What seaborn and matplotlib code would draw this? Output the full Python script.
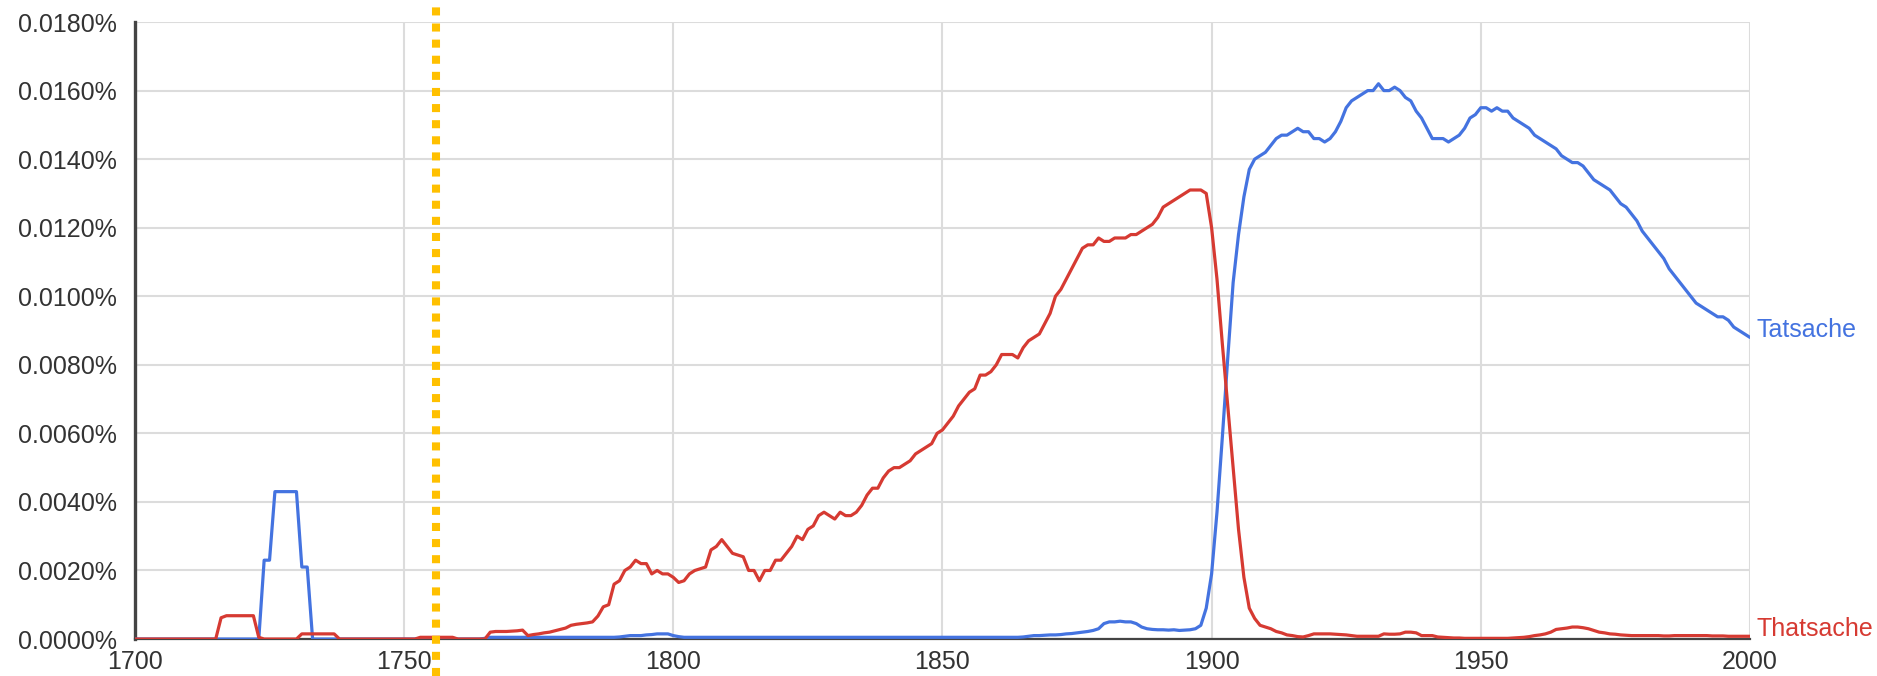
import numpy as np
import pandas as pd
import seaborn as sns
import matplotlib.pyplot as plt
from matplotlib.ticker import FuncFormatter, MultipleLocator

# ---------------------------------------------------------------
# Dados (frequência em %, um valor por ano, 1700-2000)
# ---------------------------------------------------------------

anos = list(range(1700, 2001))

# Tatsache (azul)
tatsache = [
    0, 0, 0, 0, 0, 0, 0, 0, 0, 0,                                          # 1700
    0, 0, 0, 0, 0, 0, 0, 0, 0, 0,                                          # 1710
    0, 0, 0, 0, 0.0023, 0.0023, 0.0043, 0.0043, 0.0043, 0.0043,            # 1720
    0.0043, 0.0021, 0.0021, 0, 0, 0, 0, 0, 0, 0,                           # 1730
    0, 0, 0, 0, 0, 0, 0, 0, 0, 0,                                          # 1740
    0, 0, 0, 0.00002, 0.00002, 0.00002, 0.00002, 0.00002, 0.00002, 0.00002,  # 1750
    0, 0, 0, 0, 0, 0.00002, 0.00005, 0.00005, 0.00005, 0.00005,            # 1760
    0.00005, 0.00005, 0.00005, 0.00005, 0.00005, 0.00005, 0.00005, 0.00005, 0.00005, 0.00005,  # 1770
    0.00005, 0.00005, 0.00005, 0.00005, 0.00005, 0.00005, 0.00005, 0.00005, 0.00005, 0.00005,  # 1780
    0.00006, 0.00008, 0.0001, 0.0001, 0.0001, 0.00012, 0.00013, 0.00015, 0.00015, 0.00015,     # 1790
    0.0001, 0.00007, 0.00005, 0.00005, 0.00005, 0.00005, 0.00005, 0.00005, 0.00005, 0.00005,   # 1800
    0.00005, 0.00005, 0.00005, 0.00005, 0.00005, 0.00005, 0.00005, 0.00005, 0.00005, 0.00005,  # 1810
    0.00005, 0.00005, 0.00005, 0.00005, 0.00005, 0.00005, 0.00005, 0.00005, 0.00005, 0.00005,  # 1820
    0.00005, 0.00005, 0.00005, 0.00005, 0.00005, 0.00005, 0.00005, 0.00005, 0.00005, 0.00005,  # 1830
    0.00005, 0.00005, 0.00005, 0.00005, 0.00005, 0.00005, 0.00005, 0.00005, 0.00005, 0.00005,  # 1840
    0.00005, 0.00005, 0.00005, 0.00005, 0.00005, 0.00005, 0.00005, 0.00005, 0.00005, 0.00005,  # 1850
    0.00005, 0.00005, 0.00005, 0.00005, 0.00005, 0.00006, 0.00008, 0.0001, 0.0001, 0.00011,    # 1860
    0.00012, 0.00012, 0.00013, 0.00015, 0.00016, 0.00018, 0.0002, 0.00022, 0.00025, 0.0003,    # 1870
    0.00045, 0.0005, 0.0005, 0.00052, 0.0005, 0.0005, 0.00045, 0.00035, 0.0003, 0.00028,       # 1880
    0.00027, 0.00027, 0.00026, 0.00027, 0.00025, 0.00026, 0.00027, 0.0003, 0.0004, 0.0009,     # 1890
    0.0019, 0.0037, 0.0059, 0.0082, 0.0104, 0.0118, 0.0129, 0.0137, 0.0140, 0.0141,            # 1900
    0.0142, 0.0144, 0.0146, 0.0147, 0.0147, 0.0148, 0.0149, 0.0148, 0.0148, 0.0146,            # 1910
    0.0146, 0.0145, 0.0146, 0.0148, 0.0151, 0.0155, 0.0157, 0.0158, 0.0159, 0.0160,            # 1920
    0.0160, 0.0162, 0.0160, 0.0160, 0.0161, 0.0160, 0.0158, 0.0157, 0.0154, 0.0152,            # 1930
    0.0149, 0.0146, 0.0146, 0.0146, 0.0145, 0.0146, 0.0147, 0.0149, 0.0152, 0.0153,            # 1940
    0.0155, 0.0155, 0.0154, 0.0155, 0.0154, 0.0154, 0.0152, 0.0151, 0.0150, 0.0149,            # 1950
    0.0147, 0.0146, 0.0145, 0.0144, 0.0143, 0.0141, 0.0140, 0.0139, 0.0139, 0.0138,            # 1960
    0.0136, 0.0134, 0.0133, 0.0132, 0.0131, 0.0129, 0.0127, 0.0126, 0.0124, 0.0122,            # 1970
    0.0119, 0.0117, 0.0115, 0.0113, 0.0111, 0.0108, 0.0106, 0.0104, 0.0102, 0.0100,            # 1980
    0.0098, 0.0097, 0.0096, 0.0095, 0.0094, 0.0094, 0.0093, 0.0091, 0.0090, 0.0089,            # 1990
    0.0088,                                                                                     # 2000
]

# Thatsache (vermelho)
thatsache = [
    0, 0, 0, 0, 0, 0, 0, 0, 0, 0,                                          # 1700
    0, 0, 0, 0, 0, 0, 0.00062, 0.00068, 0.00068, 0.00068,                  # 1710
    0.00068, 0.00068, 0.00068, 0.00005, 0, 0, 0, 0, 0, 0,                  # 1720
    0, 0.00015, 0.00015, 0.00015, 0.00015, 0.00015, 0.00015, 0.00015, 0, 0,  # 1730
    0, 0, 0, 0, 0, 0, 0, 0, 0, 0,                                          # 1740
    0, 0, 0, 0.00005, 0.00005, 0.00005, 0.00005, 0.00005, 0.00005, 0.00005,  # 1750
    0, 0, 0, 0, 0, 0, 0.0002, 0.00022, 0.00022, 0.00022,                   # 1760
    0.00023, 0.00024, 0.00026, 0.0001, 0.00013, 0.00015, 0.00018, 0.0002, 0.00024, 0.00028,    # 1770
    0.00032, 0.0004, 0.00043, 0.00045, 0.00047, 0.0005, 0.00067, 0.00094, 0.001, 0.0016,       # 1780
    0.0017, 0.0020, 0.0021, 0.0023, 0.0022, 0.0022, 0.0019, 0.0020, 0.0019, 0.0019,            # 1790
    0.0018, 0.00165, 0.0017, 0.0019, 0.0020, 0.00205, 0.0021, 0.0026, 0.0027, 0.0029,          # 1800
    0.0027, 0.0025, 0.00245, 0.0024, 0.0020, 0.0020, 0.0017, 0.0020, 0.0020, 0.0023,           # 1810
    0.0023, 0.0025, 0.0027, 0.0030, 0.0029, 0.0032, 0.0033, 0.0036, 0.0037, 0.0036,            # 1820
    0.0035, 0.0037, 0.0036, 0.0036, 0.0037, 0.0039, 0.0042, 0.0044, 0.0044, 0.0047,            # 1830
    0.0049, 0.0050, 0.0050, 0.0051, 0.0052, 0.0054, 0.0055, 0.0056, 0.0057, 0.0060,            # 1840
    0.0061, 0.0063, 0.0065, 0.0068, 0.0070, 0.0072, 0.0073, 0.0077, 0.0077, 0.0078,            # 1850
    0.0080, 0.0083, 0.0083, 0.0083, 0.0082, 0.0085, 0.0087, 0.0088, 0.0089, 0.0092,            # 1860
    0.0095, 0.0100, 0.0102, 0.0105, 0.0108, 0.0111, 0.0114, 0.0115, 0.0115, 0.0117,            # 1870
    0.0116, 0.0116, 0.0117, 0.0117, 0.0117, 0.0118, 0.0118, 0.0119, 0.0120, 0.0121,            # 1880
    0.0123, 0.0126, 0.0127, 0.0128, 0.0129, 0.0130, 0.0131, 0.0131, 0.0131, 0.0130,            # 1890
    0.0120, 0.0105, 0.0086, 0.0068, 0.0050, 0.0032, 0.0018, 0.0009, 0.0006, 0.0004,            # 1900
    0.00035, 0.0003, 0.00022, 0.00018, 0.00012, 0.0001, 0.00007, 0.00006, 0.0001, 0.00015,     # 1910
    0.00015, 0.00015, 0.00015, 0.00014, 0.00013, 0.00012, 0.0001, 0.00008, 0.00008, 0.00008,   # 1920
    0.00008, 0.00008, 0.00015, 0.00014, 0.00014, 0.00015, 0.0002, 0.0002, 0.00018, 0.0001,     # 1930
    0.0001, 0.0001, 0.00006, 0.00005, 0.00004, 0.00003, 0.00003, 0.00002, 0.00002, 0.00002,    # 1940
    0.00002, 0.00002, 0.00002, 0.00002, 0.00002, 0.00002, 0.00003, 0.00004, 0.00005, 0.00007,  # 1950
    0.0001, 0.00012, 0.00015, 0.0002, 0.00028, 0.0003, 0.00032, 0.00035, 0.00035, 0.00033,     # 1960
    0.0003, 0.00025, 0.0002, 0.00018, 0.00015, 0.00014, 0.00012, 0.00011, 0.0001, 0.0001,      # 1970
    0.0001, 0.0001, 0.0001, 0.0001, 0.00009, 0.00009, 0.0001, 0.0001, 0.0001, 0.0001,          # 1980
    0.0001, 0.0001, 0.0001, 0.00009, 0.00009, 0.00009, 0.00008, 0.00008, 0.00008, 0.00008,     # 1990
    0.00008,                                                                                    # 2000
]

palavras = ["Tatsache", "Thatsache"]
cores = {"Tatsache": "#4473e0", "Thatsache": "#d63a32"}
ano_marcado = 1756

df = pd.DataFrame({
    "ano": anos * 2,
    "freq": tatsache + thatsache,
    "palavra": ["Tatsache"] * len(anos) + ["Thatsache"] * len(anos),
})

# ---------------------------------------------------------------
# Gráfico
# ---------------------------------------------------------------

sns.set_style("white")
plt.rcParams["font.family"] = ["Liberation Sans", "DejaVu Sans"]

fig = plt.figure(figsize=(18.77, 6.76), dpi=100)
ax = fig.add_axes([0.0719, 0.0547, 0.8604, 0.9127])

sns.lineplot(data=df, x="ano", y="freq", hue="palavra", hue_order=palavras,
             palette=cores, linewidth=2.3, legend=False, ax=ax, zorder=3)

ax.set_xlim(1700, 2000)
ax.set_ylim(0, 0.018)
ax.xaxis.set_major_locator(MultipleLocator(50))
ax.yaxis.set_major_locator(MultipleLocator(0.002))
ax.yaxis.set_major_formatter(FuncFormatter(lambda v, p: f"{v:.4f}%"))

ax.grid(True, color="#dcdcdc", linewidth=1.5, zorder=0)
ax.set_axisbelow(True)

for lado in ["top", "right"]:
    ax.spines[lado].set_visible(False)
ax.spines["left"].set_color("#444444")
ax.spines["left"].set_linewidth(2.4)
ax.spines["bottom"].set_color("#444444")
ax.spines["bottom"].set_linewidth(1.6)

ax.tick_params(axis="y", length=8, width=1.8, color="#444444", pad=5,
               labelsize=18, labelcolor="#333333")
ax.tick_params(axis="x", length=5, width=1.8, color="#444444", pad=3,
               labelsize=18, labelcolor="#333333")
ax.set_xlabel("")
ax.set_ylabel("")

# rótulos no fim das linhas
for nome, serie in [("Tatsache", tatsache), ("Thatsache", thatsache)]:
    ax.annotate(nome, xy=(anos[-1], serie[-1]), xytext=(5, 5),
                textcoords="offset points", va="center", ha="left",
                fontsize=18, color=cores[nome], annotation_clip=False)

# linha pontilhada laranja (ano em destaque)
ax.axvline(ano_marcado, ymin=-0.06, ymax=1.04, color="#ffc000", linewidth=5.8,
           linestyle=(0, (1, 1)), clip_on=False, zorder=5)

fig.savefig("out.png", dpi=100)
plt.close(fig)
